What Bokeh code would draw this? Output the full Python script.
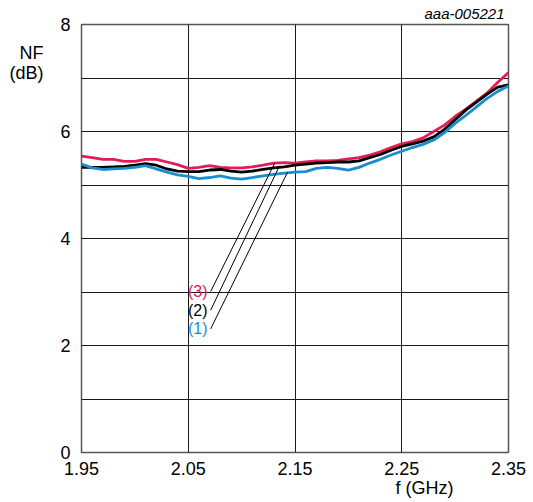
from bokeh.plotting import figure
from bokeh.models import Range1d, FixedTicker, Label, LinearAxis
from bokeh.embed import file_html
from bokeh.resources import INLINE

# ---- data ----
freq_ghz = [1.95, 1.96, 1.97, 1.98, 1.99, 2.00, 2.01, 2.02, 2.03, 2.04,
            2.05, 2.06, 2.07, 2.08, 2.09, 2.10, 2.11, 2.12, 2.13, 2.14,
            2.15, 2.16, 2.17, 2.18, 2.19, 2.20, 2.21, 2.22, 2.23, 2.24,
            2.25, 2.26, 2.27, 2.28, 2.29, 2.30, 2.31, 2.32, 2.33, 2.34, 2.35]

nf_curve3 = [5.54, 5.51, 5.48, 5.48, 5.44, 5.44, 5.48, 5.48, 5.43, 5.38,
             5.31, 5.33, 5.36, 5.33, 5.32, 5.32, 5.34, 5.37, 5.41, 5.42,
             5.41, 5.43, 5.45, 5.45, 5.46, 5.49, 5.51, 5.56, 5.62, 5.70,
             5.77, 5.81, 5.88, 6.00, 6.12, 6.28, 6.42, 6.57, 6.72, 6.92, 7.10]

nf_curve2 = [5.33, 5.33, 5.33, 5.34, 5.35, 5.37, 5.40, 5.37, 5.30, 5.26,
             5.25, 5.25, 5.28, 5.29, 5.26, 5.24, 5.26, 5.29, 5.32, 5.34,
             5.37, 5.39, 5.41, 5.42, 5.43, 5.43, 5.45, 5.51, 5.57, 5.65,
             5.72, 5.77, 5.82, 5.90, 6.04, 6.22, 6.40, 6.55, 6.70, 6.83, 6.87]

nf_curve1 = [5.39, 5.32, 5.29, 5.30, 5.31, 5.33, 5.36, 5.30, 5.24, 5.19,
             5.16, 5.12, 5.14, 5.17, 5.13, 5.11, 5.14, 5.17, 5.20, 5.22,
             5.24, 5.25, 5.31, 5.33, 5.31, 5.28, 5.33, 5.41, 5.48, 5.56,
             5.63, 5.70, 5.76, 5.84, 5.98, 6.15, 6.30, 6.46, 6.62, 6.75, 6.85]

curve_names = ["(3)", "(2)", "(1)"]
curve_colors = ["#e6195b", "#000000", "#1a8dcf"]

# leader lines: label end -> curve point
leader_x0 = [2.071, 2.071, 2.071]
leader_y0 = [3.01, 2.66, 2.31]
leader_x1 = [2.131, 2.1355, 2.143]
leader_y1 = [5.41, 5.36, 5.24]

x_ticks = [1.95, 2.05, 2.15, 2.25, 2.35]
x_grid = [2.05, 2.15, 2.25]
y_ticks = [0, 2, 4, 6, 8]
y_grid = [1, 2, 3, 4, 5, 6, 7]

y_title = ["NF", "(dB)"]
y_title_pos = [7.46, 7.09]
x_title = "f (GHz)"
x_title_pos = 2.2713
fig_id = "aaa-005221"
fig_id_pos = 2.3088

FONT = "Liberation Sans"

p = figure(width=533, height=502, output_backend="svg", toolbar_location=None,
           x_range=Range1d(1.95, 2.35), y_range=Range1d(0, 8),
           min_border_left=81, min_border_right=25, min_border_top=24,
           min_border_bottom=50)

p.outline_line_color = "#555555"
p.outline_line_width = 1.5

p.xgrid.ticker = FixedTicker(ticks=x_grid)
p.ygrid.ticker = FixedTicker(ticks=y_grid)
for g in (p.xgrid, p.ygrid):
    g.grid_line_color = "#1a1a1a"
    g.grid_line_width = 1
    g.grid_line_alpha = 1.0


def style_axis(ax, size="18px"):
    ax.axis_line_color = None
    ax.major_tick_line_color = None
    ax.minor_tick_line_color = None
    ax.major_tick_out = 0
    ax.major_tick_in = 0
    ax.major_label_text_font = FONT
    ax.major_label_text_font_size = size
    ax.major_label_text_color = "#000000"


p.xaxis.ticker = FixedTicker(ticks=x_ticks)
p.xaxis.major_label_overrides = {t: f"{t:.2f}" for t in x_ticks}
p.yaxis.ticker = FixedTicker(ticks=y_ticks)
style_axis(p.xaxis[0])
style_axis(p.yaxis[0])
p.xaxis.major_label_standoff = 9
p.yaxis.major_label_standoff = 11

# extra axes used as titles
ytitle_ax = LinearAxis(ticker=FixedTicker(ticks=y_title_pos),
                       major_label_overrides=dict(zip(y_title_pos, y_title)))
style_axis(ytitle_ax)
ytitle_ax.major_label_standoff = 14
p.add_layout(ytitle_ax, "left")

xtitle_ax = LinearAxis(ticker=FixedTicker(ticks=[x_title_pos]),
                       major_label_overrides={x_title_pos: x_title})
style_axis(xtitle_ax)
xtitle_ax.major_label_standoff = 0
p.add_layout(xtitle_ax, "below")

id_ax = LinearAxis(ticker=FixedTicker(ticks=[fig_id_pos]),
                   major_label_overrides={fig_id_pos: fig_id})
style_axis(id_ax, "15px")
id_ax.major_label_text_font_style = "italic"
id_ax.major_label_standoff = 3
p.add_layout(id_ax, "above")

# curves
for ys, col in zip([nf_curve3, nf_curve2, nf_curve1], curve_colors):
    p.line(freq_ghz, ys, line_color=col, line_width=2.8)

# leader lines
p.segment(x0=leader_x0, y0=leader_y0, x1=leader_x1, y1=leader_y1,
          line_color="#000000", line_width=1)

# curve labels
for name, col, yy in zip(curve_names, curve_colors, leader_y0):
    p.add_layout(Label(x=2.068, y=yy, text=name, text_color=col,
                       text_align="right", text_baseline="middle",
                       text_font=FONT, text_font_size="16px"))

open("out.html", "w").write(file_html(p, INLINE))
